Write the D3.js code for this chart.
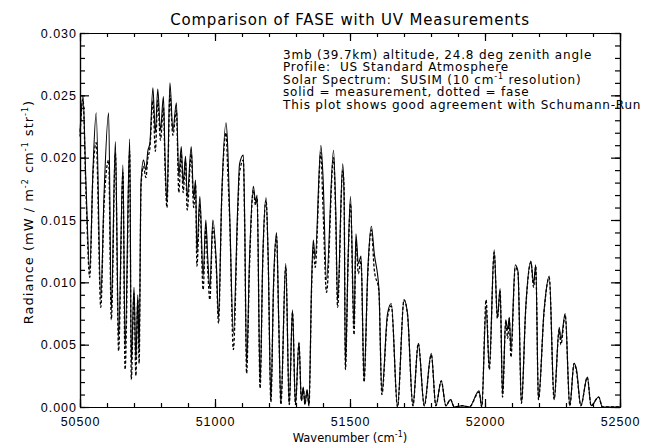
<!DOCTYPE html>
<html>
<head>
<meta charset="utf-8">
<script src="https://cdn.jsdelivr.net/npm/d3@7"></script>
<style>
  body { margin: 0; background: #fff; }
  svg { font-family: "DejaVu Sans", sans-serif; }
  text { white-space: pre; }
  .axis path, .axis line { stroke: #000; stroke-width: 1.2; }
  .axis text { font-size: 12.5px; fill: #000; letter-spacing: 1px; }
</style>
</head>
<body>
<div id="chart"></div>
<script>

// wavenumber grid (cm-1), peaks and troughs
var wavenumbers = [50500, 50511, 50522, 50536, 50548, 50560, 50577, 50589, 50606, 50616,
  50631, 50643, 50659, 50667, 50684, 50690, 50700, 50707, 50714, 50719,
  50726, 50735, 50744, 50751, 50759, 50770, 50779, 50788, 50798, 50809,
  50815, 50822, 50833, 50844, 50857, 50866, 50875, 50882, 50891, 50897,
  50912, 50921, 50928, 50933, 50944, 50956, 50966, 50973, 50981, 50992,
  51005, 51013, 51025, 51041, 51047, 51055, 51068, 51084, 51091, 51105,
  51110, 51117, 51128, 51142, 51150, 51156, 51167, 51177, 51189, 51197,
  51207, 51217, 51228, 51236, 51244, 51262, 51275, 51287, 51298, 51311,
  51320, 51327, 51333, 51341, 51348, 51358, 51364, 51371, 51392, 51400,
  51413, 51439, 51447, 51454, 51473, 51478, 51483, 51493, 51502, 51515,
  51522, 51531, 51541, 51552, 51566, 51579, 51590, 51607, 51618, 51639,
  51653, 51676, 51700, 51713, 51733, 51753, 51775, 51801, 51818, 51838,
  51855, 51872, 51886, 51916, 51942, 51978, 51988, 52004, 52016, 52034,
  52046, 52056, 52065, 52077, 52084, 52090, 52096, 52112, 52122, 52135,
  52151, 52170, 52180, 52188, 52198, 52219, 52238, 52256, 52275, 52281,
  52297, 52314, 52330, 52339, 52355, 52379, 52393, 52421, 52435, 52500];

// solid = measurement
var measured = [0.0220, 0.0250, 0.0180, 0.0110, 0.0190, 0.0236, 0.0088, 0.0170, 0.0236, 0.0078,
  0.0213, 0.0056, 0.0194, 0.0048, 0.0215, 0.0035, 0.0096, 0.0038, 0.0090, 0.0045,
  0.0180, 0.0198, 0.0190, 0.0205, 0.0212, 0.0256, 0.0220, 0.0255, 0.0222, 0.0249,
  0.0200, 0.0164, 0.0260, 0.0222, 0.0244, 0.0185, 0.0209, 0.0180, 0.0201, 0.0168,
  0.0209, 0.0168, 0.0182, 0.0125, 0.0169, 0.0105, 0.0150, 0.0120, 0.0095, 0.0150,
  0.0115, 0.0072, 0.0170, 0.0228, 0.0209, 0.0150, 0.0059, 0.0160, 0.0195, 0.0202,
  0.0150, 0.0035, 0.0120, 0.0177, 0.0165, 0.0170, 0.0019, 0.0120, 0.0168, 0.0120,
  0.0006, 0.0100, 0.0140, 0.0070, 0.0003, 0.0115, 0.0002, 0.0078, 0.0002, 0.0052,
  0.0005, 0.0016, 0.0002, 0.0014, 0.0001, 0.0102, 0.0134, 0.0120, 0.0210, 0.0185,
  0.0102, 0.0206, 0.0160, 0.0085, 0.0195, 0.0170, 0.0032, 0.0120, 0.0169, 0.0064,
  0.0139, 0.0115, 0.0121, 0.0022, 0.0110, 0.0145, 0.0123, 0.0095, 0.0011, 0.0075,
  0.0083, 0.0000, 0.0086, 0.0075, 0.0001, 0.0051, 0.0001, 0.0043, 0.0001, 0.0021,
  0.0001, 0.0006, 0.0000, 0.0001, 0.0000, 0.0013, 0.0000, 0.0080, 0.0032, 0.0126,
  0.0072, 0.0095, 0.0010, 0.0070, 0.0062, 0.0072, 0.0046, 0.0114, 0.0109, 0.0003,
  0.0080, 0.0117, 0.0099, 0.0114, 0.0006, 0.0078, 0.0105, 0.0006, 0.0064, 0.0054,
  0.0075, 0.0001, 0.0035, 0.0030, 0.0001, 0.0024, 0.0001, 0.0008, 0.0000, 0.0000];

// dotted = fase model
var fase = [0.0217, 0.0247, 0.0172, 0.0104, 0.0186, 0.0212, 0.0080, 0.0162, 0.0198, 0.0070,
  0.0204, 0.0045, 0.0188, 0.0030, 0.0205, 0.0022, 0.0091, 0.0025, 0.0086, 0.0035,
  0.0177, 0.0193, 0.0184, 0.0199, 0.0208, 0.0246, 0.0205, 0.0246, 0.0214, 0.0240,
  0.0192, 0.0160, 0.0250, 0.0218, 0.0238, 0.0172, 0.0203, 0.0172, 0.0197, 0.0158,
  0.0203, 0.0160, 0.0178, 0.0113, 0.0163, 0.0094, 0.0144, 0.0110, 0.0086, 0.0144,
  0.0110, 0.0067, 0.0167, 0.0220, 0.0190, 0.0146, 0.0046, 0.0154, 0.0188, 0.0198,
  0.0143, 0.0027, 0.0114, 0.0174, 0.0162, 0.0167, 0.0015, 0.0117, 0.0166, 0.0117,
  0.0004, 0.0097, 0.0137, 0.0068, 0.0002, 0.0113, 0.0002, 0.0076, 0.0002, 0.0051,
  0.0005, 0.0015, 0.0002, 0.0013, 0.0001, 0.0097, 0.0128, 0.0112, 0.0204, 0.0160,
  0.0092, 0.0200, 0.0152, 0.0080, 0.0190, 0.0175, 0.0030, 0.0117, 0.0163, 0.0058,
  0.0133, 0.0107, 0.0117, 0.0020, 0.0107, 0.0142, 0.0110, 0.0093, 0.0010, 0.0072,
  0.0081, 0.0000, 0.0086, 0.0074, 0.0001, 0.0051, 0.0001, 0.0042, 0.0001, 0.0021,
  0.0001, 0.0006, 0.0000, 0.0001, 0.0000, 0.0012, 0.0000, 0.0086, 0.0030, 0.0124,
  0.0071, 0.0093, 0.0008, 0.0069, 0.0055, 0.0071, 0.0040, 0.0112, 0.0108, 0.0003,
  0.0079, 0.0116, 0.0096, 0.0113, 0.0006, 0.0077, 0.0104, 0.0006, 0.0062, 0.0050,
  0.0074, 0.0001, 0.0035, 0.0028, 0.0001, 0.0024, 0.0001, 0.0008, 0.0000, 0.0000];

var xTicks = [50500, 51000, 51500, 52000, 52500];
var yTicks = [0.000, 0.005, 0.010, 0.015, 0.020, 0.025, 0.030];

var notes = [
  "3mb (39.7km) altitude, 24.8 deg zenith angle",
  "Profile:  US Standard Atmosphere",
  ["Solar Spectrum:  SUSIM (10 cm", "-1", " resolution)"],
  "solid = measurement, dotted = fase",
  "This plot shows good agreement with Schumann-Run"
];

var W = 656, H = 446;
var margin = {top: 33, right: 36, bottom: 39, left: 80};
var width = W - margin.left - margin.right,
    height = H - margin.top - margin.bottom;

var svg = d3.select("#chart").append("svg")
    .attr("width", W)
    .attr("height", H);

var g = svg.append("g")
    .attr("transform", "translate(" + margin.left + "," + margin.top + ")");

var x = d3.scaleLinear().domain([50500, 52500]).range([0, width]);
var y = d3.scaleLinear().domain([0, 0.030]).range([height, 0]);

// minor ticks first (every 100 cm-1 and every 0.001)
var xMinor = d3.range(50500, 52501, 100);
var yMinor = d3.range(0, 31).map(function(d) { return d / 1000; });

g.append("g").attr("class", "axis")
    .attr("transform", "translate(0," + height + ")")
    .call(d3.axisBottom(x).tickValues(xMinor).tickSize(-4).tickSizeOuter(0).tickFormat(""));
g.append("g").attr("class", "axis")
    .call(d3.axisTop(x).tickValues(xMinor).tickSize(-4).tickSizeOuter(0).tickFormat(""));
g.append("g").attr("class", "axis")
    .call(d3.axisLeft(y).tickValues(yMinor).tickSize(-5).tickSizeOuter(0).tickFormat(""));
g.append("g").attr("class", "axis")
    .attr("transform", "translate(" + width + ",0)")
    .call(d3.axisRight(y).tickValues(yMinor).tickSize(-5).tickSizeOuter(0).tickFormat(""));

// major ticks, pointing inwards like IDL
g.append("g").attr("class", "axis")
    .attr("transform", "translate(0," + height + ")")
    .call(d3.axisBottom(x).tickValues(xTicks).tickSize(-8).tickSizeOuter(0)
        .tickPadding(10).tickFormat(d3.format("d")));
g.append("g").attr("class", "axis")
    .call(d3.axisTop(x).tickValues(xTicks).tickSize(-8).tickSizeOuter(0).tickFormat(""));
g.append("g").attr("class", "axis")
    .call(d3.axisLeft(y).tickValues(yTicks).tickSize(-9).tickSizeOuter(0)
        .tickPadding(3).tickFormat(d3.format(".3f")));
g.append("g").attr("class", "axis")
    .attr("transform", "translate(" + width + ",0)")
    .call(d3.axisRight(y).tickValues(yTicks).tickSize(-9).tickSizeOuter(0).tickFormat(""));

// spectra
var rows = wavenumbers.map(function(w, i) {
  return {w: w, m: measured[i], f: fase[i]};
});

var lineM = d3.line()
    .x(function(d) { return x(d.w); })
    .y(function(d) { return y(d.m); })
    .curve(d3.curveMonotoneX);
var lineF = d3.line()
    .x(function(d) { return x(d.w); })
    .y(function(d) { return y(d.f); })
    .curve(d3.curveMonotoneX);

g.append("path").datum(rows)
    .attr("d", lineF)
    .attr("fill", "none")
    .attr("stroke", "#000")
    .attr("stroke-width", 1.3)
    .attr("stroke-dasharray", "3,2");

g.append("path").datum(rows)
    .attr("d", lineM)
    .attr("fill", "none")
    .attr("stroke", "#000")
    .attr("stroke-width", 1.1);

// title
svg.append("text")
    .attr("x", margin.left + width / 2)
    .attr("y", 25)
    .attr("text-anchor", "middle")
    .style("font-size", "15px")
    .style("letter-spacing", "0.8px")
    .text("Comparison of FASE with UV Measurements");

// annotation block
var note = svg.append("text")
    .attr("x", 283)
    .attr("y", 59)
    .style("font-size", "12px")
    .style("letter-spacing", "0.8px");

notes.forEach(function(line, i) {
  var t = note.append("tspan").attr("x", 283).attr("y", 59 + i * 12.4);
  if (typeof line === "string") {
    t.text(line);
  } else {
    t.text(line[0]);
    note.append("tspan").attr("dy", -5).style("font-size", "8px").text(line[1]);
    note.append("tspan").attr("dy", 5).text(line[2]);
  }
});

// axis titles
var xl = svg.append("text")
    .attr("x", margin.left + width / 2)
    .attr("y", 442)
    .attr("text-anchor", "middle")
    .style("font-size", "11.5px");
xl.append("tspan").text("Wavenumber (cm");
xl.append("tspan").attr("dy", -5).style("font-size", "8px").text("-1");
xl.append("tspan").attr("dy", 5).text(")");

var yl = svg.append("text")
    .attr("transform", "translate(33," + (margin.top + height / 2 - 8) + ") rotate(-90)")
    .attr("text-anchor", "middle")
    .style("font-size", "13px")
    .style("letter-spacing", "1px");
yl.append("tspan").text("Radiance (mW / m");
yl.append("tspan").attr("dy", -5).style("font-size", "8px").text("-2");
yl.append("tspan").attr("dy", 5).text(" cm");
yl.append("tspan").attr("dy", -5).style("font-size", "8px").text("-1");
yl.append("tspan").attr("dy", 5).text(" str");
yl.append("tspan").attr("dy", -5).style("font-size", "8px").text("-1");
yl.append("tspan").attr("dy", 5).text(")");

</script>
</body>
</html>
